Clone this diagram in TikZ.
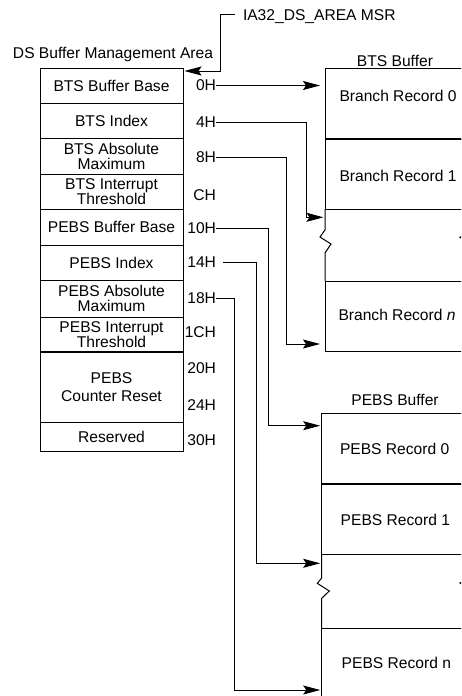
\documentclass[tikz,border=0pt]{standalone}
\usepackage{fontspec}
\setmainfont{Liberation Sans}
\usetikzlibrary{arrows.meta,calc}

\tikzset{
  cell/.style={draw, line width=1pt, minimum width=143pt, align=center},
  recbox/.style={draw, line width=1pt},
  rectext/.style={anchor=base west},
  offlabel/.style={anchor=east},
  ptr/.style={line width=1pt, -{Stealth[length=17pt,width=9pt,inset=3pt]}},
  wire/.style={line width=1pt},
  sepline/.style={line width=1.9pt},
}

\begin{document}
\begin{tikzpicture}[x=1pt, y=-1pt,
    every node/.style={inner sep=0pt, outer sep=0pt,
      font=\fontsize{15.6pt}{15pt}\selectfont}]
  \useasboundingbox (0,0) rectangle (461,696);
  \fill[white] (0,0) rectangle (461,696);
  \clip (0,0) rectangle (461,696);

  % titles
  \node[anchor=base] (dstitle) at (113,58.5) {DS Buffer Management Area};
  \node[anchor=base] (btstitle) at (395,66.5) {BTS Buffer};
  \node[anchor=base] (pebstitle) at (395,405.5) {PEBS Buffer};
  \node[anchor=base west] (msr) at (243,20.5) {IA32\_DS\_AREA MSR};

  % DS buffer management area
  \node[cell, minimum height=35pt] (c0) at (111.5,85.5) {BTS Buffer Base};
  \node[cell, minimum height=35pt] (c1) at (111.5,120.5) {BTS Index};
  \node[cell, minimum height=36pt] (c2) at (111.5,156) {BTS Absolute\\Maximum};
  \node[cell, minimum height=35pt] (c3) at (111.5,191.5) {BTS Interrupt\\Threshold};
  \node[cell, minimum height=36pt] (c4) at (111.5,227) {PEBS Buffer Base};
  \node[cell, minimum height=35pt] (c5) at (111.5,262.5) {PEBS Index};
  \node[cell, minimum height=37pt] (c6) at (111.5,298.5) {PEBS Absolute\\Maximum};
  \node[cell, minimum height=35pt] (c7) at (111.5,334.5) {PEBS Interrupt\\Threshold};
  \node[cell, minimum height=70pt] (c8) at (111.5,387) {PEBS\\[2.7pt]Counter Reset};
  \node[cell, minimum height=29pt] (c9) at (111.5,436.5) {Reserved};
  \draw[sepline] (c7.south west) -- (c7.south east);

  % offsets
  \node[offlabel] (o0)  at (216,85.5)  {0H};
  \node[offlabel] (o4)  at (216,122)   {4H};
  \node[offlabel] (o8)  at (216,157)   {8H};
  \node[offlabel] (oC)  at (216,195)   {CH};
  \node[offlabel] (o10) at (216,228.5) {10H};
  \node[offlabel] (o14) at (216,262)   {14H};
  \node[offlabel] (o18) at (216,298.5) {18H};
  \node[offlabel] (o1C) at (216,332)   {1CH};
  \node[offlabel] (o20) at (216,368)   {20H};
  \node[offlabel] (o24) at (216,405)   {24H};
  \node[offlabel] (o30) at (216,440)   {30H};

  % BTS buffer
  \node[recbox, minimum width=144pt, minimum height=71pt] (br0) at (397,103.5) {};
  \node[recbox, minimum width=144pt, minimum height=70pt] (br1) at (397,174) {};
  \node[recbox, minimum width=144pt, minimum height=70pt] (brn) at (397,316) {};
  \draw[sepline] (br0.south west) -- (br0.south east);
  \draw[wire] (br1.south west) -- (325,230) -- (320,237) -- (331,244) -- (325,253) -- (brn.north west);
  \draw[wire] (br1.south east) -- (469,230) -- (460,237.5) -- (473,244) -- (469,253) -- (brn.north east);
  \node[rectext] (br0t) at (339.5,101.6) {Branch Record 0};
  \node[rectext] (br1t) at (339.5,181.7) {Branch Record 1};
  \node[rectext] (brnt) at (338.5,320.7) {Branch Record \textit{n}};

  % PEBS buffer
  \node[recbox, minimum width=147.3pt, minimum height=71pt] (pr0) at (395.35,448.5) {};
  \node[recbox, minimum width=147.3pt, minimum height=70pt] (pr1) at (395.35,519) {};
  \node[recbox, minimum width=147.3pt, minimum height=102pt] (prn) at (395.35,679) {};
  \draw[sepline] (pr0.south west) -- (pr0.south east);
  \draw[wire] (pr1.south west) -- (321.7,578) -- (317.3,583.3) -- (329.3,591) -- (321.7,598.3) -- (prn.north west);
  \draw[wire] (pr1.south east) -- (469,578) -- (460,583) -- (473,591) -- (469,598) -- (prn.north east);
  \node[rectext] (pr0t) at (340,454) {PEBS Record 0};
  \node[rectext] (pr1t) at (340.7,525.7) {PEBS Record 1};
  \node[rectext] (prnt) at (341.7,668.3) {PEBS Record n};

  % MSR pointer
  \coordinate (msrtail) at (235,14.3);
  \coordinate (msrturn) at (220,71);
  \draw[ptr, shorten >=1.5pt] (msrtail) -| (msrturn) -- (msrturn -| c0.east);

  % field pointers
  \coordinate (k4)  at (306.7,217.3);
  \coordinate (k8)  at (286,344);
  \coordinate (k10) at (268.3,425.7);
  \coordinate (k14) at (256,563.3);
  \coordinate (k18) at (234.3,690);
  \draw[ptr, shorten >=5pt] (o0.east) -- (o0.east -| br0.west);
  \draw[ptr, shorten >=1.5pt] (o4.east) -| (k4) -- (k4 -| br1.west);
  \draw[ptr, shorten >=5pt] (o8.east) -| (k8) -- (k8 -| brn.west);
  \draw[ptr, shorten >=1.5pt] (o10.east) -| (k10) -- (k10 -| pr0.west);
  \draw[ptr, shorten >=1.5pt, shorten <=6.5pt] (o14.east) -| (k14) -- (k14 -| pr1.west);
  \draw[ptr, shorten >=1.5pt] (o18.east) -| (k18) -- (k18 -| prn.west);
\end{tikzpicture}
\end{document}
